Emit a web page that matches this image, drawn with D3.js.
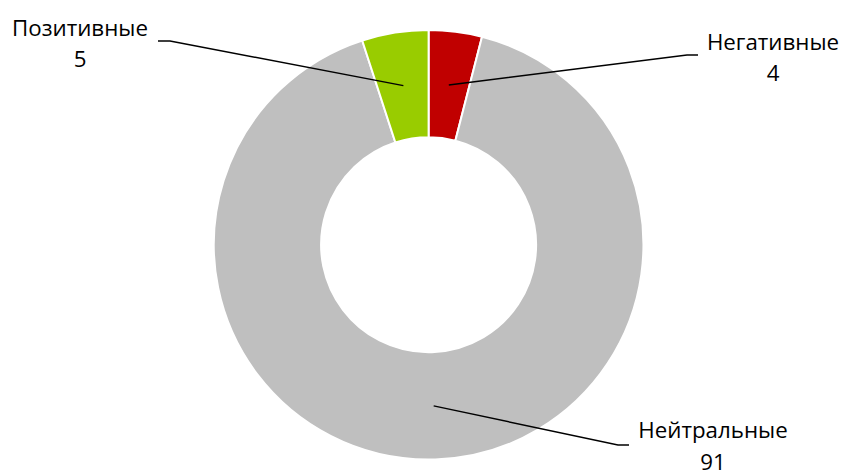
<!DOCTYPE html>
<html><head><meta charset="utf-8">
<script src="https://cdn.jsdelivr.net/npm/d3@7"></script>
<style>html,body{margin:0;padding:0;background:#fff;}svg{display:block;}</style>
</head><body>
<svg id="chart" width="843" height="471"></svg>
<script>
const categories = ["Негативные", "Нейтральные", "Позитивные"];
const values = [4, 91, 5];
const colors = ["#C00000", "#BFBFBF", "#99CC00"];

const W = 843, H = 471;
const cx = 428.6, cy = 244.8, rOuter = 214.8, rInner = 107.5;
// label layout: text center x, first baseline y, leader line elbow/end
const labelLayout = [
  {x: 773, y: 49.5, elbow: [687, 55], end: [698, 55]},
  {x: 713, y: 438, elbow: [618, 445], end: [629, 445]},
  {x: 80, y: 35.5, elbow: [170, 41], end: [158, 41]}
];

const svg = d3.select("#chart");
const g = svg.append("g").attr("transform", `translate(${cx},${cy})`);
const data = categories.map((c, i) => ({cat: c, value: values[i], color: colors[i]}));
const pie = d3.pie().value(d => d.value).sort(null);
const arc = d3.arc().innerRadius(rInner).outerRadius(rOuter);
const arcs = pie(data);

g.selectAll("path.slice").data(arcs).enter().append("path")
  .attr("class", "slice")
  .attr("d", arc)
  .attr("fill", d => d.data.color)
  .attr("stroke", "#fff")
  .attr("stroke-width", 2);

const font = "Open Sans, sans-serif";
arcs.forEach((a, i) => {
  const L = labelLayout[i];
  const c = arc.centroid(a);
  const p0 = [cx + c[0], cy + c[1]];
  svg.append("polyline")
    .attr("points", [p0, L.elbow, L.end].map(p => p.join(",")).join(" "))
    .attr("fill", "none").attr("stroke", "#000").attr("stroke-width", 1.5);
  const t = svg.append("text")
    .attr("x", L.x).attr("y", L.y)
    .attr("text-anchor", "middle")
    .attr("font-family", font).attr("font-size", 22.3).attr("fill", "#000");
  t.append("tspan").attr("x", L.x).attr("dy", 0).text(a.data.cat);
  t.append("tspan").attr("x", L.x).attr("dy", 31.5).text(a.data.value);
});
</script>
</body></html>
